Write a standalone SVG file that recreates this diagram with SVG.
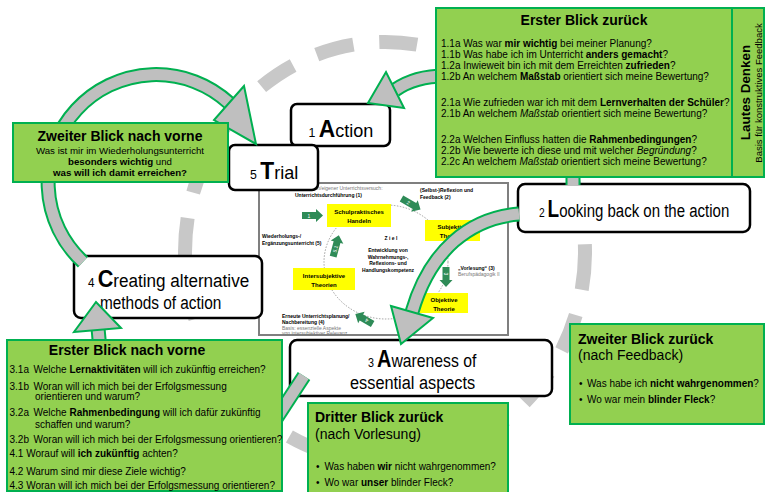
<svg xmlns="http://www.w3.org/2000/svg" width="767" height="492" viewBox="0 0 767 492">
  <defs>
    <style>
      text { font-family: "Liberation Sans", Arial, sans-serif; fill: #000; }
      .gbox { fill: #92d050; stroke: #00b050; stroke-width: 2; }
      .step { fill: #fff; stroke: #000; stroke-width: 2.5; }
      .q { font-size: 10px; }
      .t14b { font-size: 14px; font-weight: bold; }
      .t14 { font-size: 14px; }
      .b { font-weight: bold; }
      .i { font-style: italic; }
      .num { font-size: 13px; }
      .cap { font-size: 24px; font-weight: bold; }
      .lbl { font-size: 19px; }
      .band-o { fill: none; stroke: #00b050; stroke-width: 15; }
      .band-i { fill: none; stroke: #bfbfbf; stroke-width: 11; }
      .head { fill: #bfbfbf; stroke: #00b050; stroke-width: 2; stroke-linejoin: miter; }
      .yel { fill: #ffff00; }
      .minib { font-size: 5px; font-weight: bold; }
      .minig { font-size: 5px; fill: #777; }
      .ylab { font-size: 6px; font-weight: bold; text-anchor: middle; }
      .sarrow { fill: #2e8b57; }
      .snum { font-size: 5px; fill: #fff; text-anchor: middle; }
    </style>
  </defs>

  <rect width="767" height="492" fill="#fff"/>

  <!-- large dashed cycle ring -->
  <ellipse cx="385" cy="252" rx="200" ry="210" fill="none" stroke="#c8c8c8" stroke-width="14" stroke-dasharray="38 26"/>

  <!-- central cycle figure -->
  <g id="cycle-figure">
    <rect x="259" y="183" width="249" height="152" fill="#fff" stroke="#7f7f7f" stroke-width="2"/>
    <ellipse cx="386" cy="262" rx="62" ry="57" fill="none" stroke="#888" stroke-width="0.8" stroke-dasharray="1.5 1.5"/>
    <text class="minig" x="295" y="190">Hospitation/eigener Unterrichtsversuch:</text>
    <text class="minib" x="295" y="197">Unterrichtsdurchführung (1)</text>
    <text class="minib" x="420" y="192">(Selbst-)Reflexion und</text>
    <text class="minib" x="420" y="199">Feedback (2)</text>

    <rect class="yel" x="327" y="204" width="64" height="23"/>
    <text class="ylab" x="359" y="214">Schulpraktisches</text>
    <text class="ylab" x="359" y="223">Handeln</text>
    <rect class="yel" x="425" y="220" width="55" height="21"/>
    <text class="ylab" x="452.5" y="229">Subjektive</text>
    <text class="ylab" x="452.5" y="238">Theorien</text>
    <rect class="yel" x="420" y="293" width="48" height="20"/>
    <text class="ylab" x="444" y="301.5">Objektive</text>
    <text class="ylab" x="444" y="310.5">Theorie</text>
    <rect class="yel" x="293" y="268" width="62" height="22"/>
    <text class="ylab" x="324" y="277.5">Intersubjektive</text>
    <text class="ylab" x="324" y="286.5">Theorien</text>

    <text class="minib" x="391" y="240" text-anchor="middle">Z i e l</text>
    <text class="minib" x="388" y="252" text-anchor="middle">Entwicklung von</text>
    <text class="minib" x="388" y="258.5" text-anchor="middle">Wahrnehmungs-,</text>
    <text class="minib" x="388" y="265" text-anchor="middle">Reflexions- und</text>
    <text class="minib" x="388" y="271.5" text-anchor="middle">Handlungskompetenz</text>

    <text class="minib" x="458" y="270">„Vorlesung“ (3)</text>
    <text class="minig" x="458" y="276">Berufspädagogik II</text>
    <text class="minib" x="262" y="238">Wiederholungs-/</text>
    <text class="minib" x="262" y="245">Ergänzungsunterricht (5)</text>
    <text class="minib" x="282" y="318">Erneute Unterrichtsplanung/</text>
    <text class="minib" x="282" y="324">Nachbereitung (4)</text>
    <text class="minig" x="282" y="329.5">Basis: essenzielle Aspekte</text>
    <text class="minig" x="282" y="335">von intersubjektiver Relevanz</text>

    <!-- small numbered arrows -->
    <polygon class="sarrow" points="302,212 316,212 316,209 323,215.5 316,222 316,219 302,219"/>
    <text class="snum" x="309" y="217.5">1</text>
    <g transform="translate(411,204) rotate(30)">
      <polygon class="sarrow" points="-11,-3.5 4,-3.5 4,-6.5 11,0 4,6.5 4,3.5 -11,3.5"/>
      <text class="snum" x="-3" y="2">2</text>
    </g>
    <g transform="translate(446,277) rotate(90)">
      <polygon class="sarrow" points="-10,-3.5 3,-3.5 3,-6.5 10,0 3,6.5 3,3.5 -10,3.5"/>
      <text class="snum" x="-3" y="2">3</text>
    </g>
    <g transform="translate(364,319) rotate(-150)">
      <polygon class="sarrow" points="-10,-3.5 3,-3.5 3,-6.5 10,0 3,6.5 3,3.5 -10,3.5"/>
      <text class="snum" x="-3" y="2">4</text>
    </g>
    <g transform="translate(336,246) rotate(-75)">
      <polygon class="sarrow" points="-11,-3.5 4,-3.5 4,-6.5 11,0 4,6.5 4,3.5 -11,3.5"/>
      <text class="snum" x="-3" y="2">5.1</text>
    </g>
  </g>

  <!-- cycle steps -->
  <g id="step-1-action">
    <rect class="step" x="291" y="104" width="99" height="42" rx="6"/>
    <text transform="translate(308.5,136.5) scale(0.95,1)"><tspan class="num">1 </tspan><tspan class="cap">A</tspan><tspan class="lbl">ction</tspan></text>
  </g>
  <g id="step-5-trial">
    <rect class="step" x="229" y="145" width="89" height="45" rx="6"/>
    <text transform="translate(250,179) scale(0.95,1)"><tspan class="num">5 </tspan><tspan class="cap">T</tspan><tspan class="lbl">rial</tspan></text>
  </g>
  <g id="step-2-looking-back">
    <rect class="step" x="518" y="184" width="232" height="48" rx="7"/>
    <text transform="translate(539,217) scale(0.79,1)"><tspan class="num">2 </tspan><tspan class="cap">L</tspan><tspan class="lbl">ooking back on the action</tspan></text>
  </g>
  <g id="step-4-creating">
    <rect class="step" x="74" y="256" width="188" height="62" rx="7"/>
    <text transform="translate(88,287) scale(0.9,1)"><tspan class="num">4 </tspan><tspan class="cap">C</tspan><tspan class="lbl">reating alternative</tspan></text>
    <text class="lbl" transform="translate(100,309) scale(0.81,1)">methods of action</text>
  </g>
  <g id="step-3-awareness">
    <rect class="step" x="290" y="340" width="262" height="56" rx="7"/>
    <text transform="translate(368,366.5) scale(0.83,1)"><tspan class="num">3 </tspan><tspan class="cap">A</tspan><tspan class="lbl">wareness of</tspan></text>
    <text class="lbl" transform="translate(350,389) scale(0.86,1)">essential aspects</text>
  </g>

  <g id="connectors">
    <!-- big arc from step 4 up round to step 5 -->
    <path class="band-o" d="M 83 262 A 103 103 0 1 1 229.2 103.1"/>
    <path class="band-i" d="M 83 262 A 103 103 0 1 1 229.2 103.1"/>
    <polygon class="head" points="244,86 214,120 256,144"/>

    <!-- first look back, bending down to step 1 -->
    <path class="band-o" d="M 445 76 Q 415 76 395 90"/>
    <path class="band-i" d="M 445 76 Q 415 76 395 90"/>
    <polygon class="head" points="404,108 386,72 368,103"/>

    <!-- first look back down to step 2 -->
    <path class="band-o" d="M 573 170 L 573 185"/>
    <path class="band-i" d="M 573 170 L 573 185"/>

    <!-- step 2 through the figure down to step 3 -->
    <path class="band-o" d="M 519 214 C 470 218 430 250 412 312"/>
    <path class="band-i" d="M 519 214 C 470 218 430 250 412 312"/>
    <polygon class="head" points="433,318 391,306 401,344"/>

    <!-- step 3 down to the first look forward -->
    <path class="band-o" d="M 304 376 L 272 425"/>
    <path class="band-i" d="M 304 376 L 272 425"/>

    <!-- first look forward up to step 4 -->
    <path class="band-o" d="M 100 350 L 98 328"/>
    <path class="band-i" d="M 100 350 L 98 328"/>
    <polygon class="head" points="74,332 121,328 96,302"/>
  </g>

  <!-- reflection boxes -->
  <g id="erster-blick-zurueck">
    <rect class="gbox" x="436" y="8" width="296" height="169"/>
    <text class="t14b" x="584" y="25" text-anchor="middle">Erster Blick zurück</text>
    <text class="q" x="441" y="46.5">1.1a Was war <tspan class="b">mir wichtig</tspan> bei meiner Planung?</text>
    <text class="q" x="441" y="57.5">1.1b Was habe ich im Unterricht <tspan class="b">anders gemacht</tspan>?</text>
    <text class="q" x="441" y="68.5">1.2a Inwieweit bin ich mit dem Erreichten <tspan class="b">zufrieden</tspan>?</text>
    <text class="q" x="441" y="80">1.2b An welchem <tspan class="b">Maßstab</tspan> orientiert sich meine Bewertung?</text>
    <text class="q" x="441" y="105.5">2.1a Wie zufrieden war ich mit dem <tspan class="b">Lernverhalten der Schüler</tspan>?</text>
    <text class="q" x="441" y="116.5">2.1b An welchem <tspan class="i">Maßstab</tspan> orientiert sich meine Bewertung?</text>
    <text class="q" x="441" y="142.5">2.2a Welchen Einfluss hatten die <tspan class="b">Rahmenbedingungen</tspan>?</text>
    <text class="q" x="441" y="153.5">2.2b Wie bewerte ich diese und mit welcher <tspan class="i">Begründung</tspan>?</text>
    <text class="q" x="441" y="165">2.2c An welchem <tspan class="i">Maßstab</tspan> orientiert sich meine Bewertung?</text>
  </g>
  <g id="lautes-denken">
    <rect class="gbox" x="732" y="8" width="32" height="169"/>
    <text transform="translate(749.5,92.5) rotate(-90)" text-anchor="middle" font-size="13.4" font-weight="bold">Lautes Denken</text>
    <text transform="translate(762,93) rotate(-90)" text-anchor="middle" font-size="9.5">Basis für konstruktives Feedback</text>
  </g>
  <g id="zweiter-blick-nach-vorne">
    <rect class="gbox" x="13" y="123" width="215" height="59"/>
    <text class="t14b" x="120" y="140.5" text-anchor="middle">Zweiter Blick nach vorne</text>
    <text x="120" y="154" text-anchor="middle" font-size="9.7">Was ist mir im Wiederholungsunterricht</text>
    <text x="120" y="165" text-anchor="middle" font-size="9.7"><tspan class="b">besonders wichtig</tspan> und</text>
    <text x="120" y="176" text-anchor="middle" font-size="9.7" font-weight="bold">was will ich damit erreichen?</text>
  </g>
  <g id="erster-blick-nach-vorne">
    <rect class="gbox" x="7" y="340" width="275" height="151"/>
    <text class="t14b" x="127" y="354.5" text-anchor="middle">Erster Blick nach vorne</text>
    <text class="q" x="9.5" y="373">3.1a</text>
    <text class="q" x="33.5" y="373">Welche <tspan class="b">Lernaktivitäten</tspan> will ich zukünftig erreichen?</text>
    <text class="q" x="9.5" y="389.5">3.1b</text>
    <text class="q" x="33.5" y="389.5">Woran will ich mich bei der Erfolgsmessung</text>
    <text class="q" x="35" y="400">orientieren und warum?</text>
    <text class="q" x="9.5" y="416">3.2a</text>
    <text class="q" x="33.5" y="416">Welche <tspan class="b">Rahmenbedingung</tspan> will ich dafür zukünftig</text>
    <text class="q" x="35" y="427.5">schaffen und warum?</text>
    <text class="q" x="9.5" y="443">3.2b</text>
    <text class="q" x="33.5" y="443">Woran will ich mich bei der Erfolgsmessung orientieren?</text>
    <text class="q" x="9.5" y="457">4.1 Worauf will <tspan class="b">ich zukünftig</tspan> achten?</text>
    <text class="q" x="9.5" y="474.5">4.2 Warum sind mir diese Ziele wichtig?</text>
    <text class="q" x="9.5" y="488.5">4.3 Woran will ich mich bei der Erfolgsmessung orientieren?</text>
  </g>
  <g id="zweiter-blick-zurueck">
    <rect class="gbox" x="570" y="324" width="194" height="100"/>
    <text class="t14b" x="578" y="343.5">Zweiter Blick zurück</text>
    <text class="t14" x="578" y="360">(nach Feedback)</text>
    <text class="q" x="579" y="387">•</text>
    <text class="q" x="587" y="387">Was habe ich <tspan class="b">nicht wahrgenommen</tspan>?</text>
    <text class="q" x="579" y="403">•</text>
    <text class="q" x="587" y="403">Wo war mein <tspan class="b">blinder Fleck</tspan>?</text>
  </g>
  <g id="dritter-blick-zurueck">
    <rect class="gbox" x="308" y="403" width="200" height="92"/>
    <text class="t14b" x="315" y="422">Dritter Blick zurück</text>
    <text class="t14" x="315" y="438.5">(nach Vorlesung)</text>
    <text class="q" x="316" y="469.5">•</text>
    <text class="q" x="324.5" y="469.5">Was haben <tspan class="b">wir</tspan> nicht wahrgenommen?</text>
    <text class="q" x="316" y="486">•</text>
    <text class="q" x="324.5" y="486">Wo war <tspan class="b">unser</tspan> blinder Fleck?</text>
  </g>
</svg>
